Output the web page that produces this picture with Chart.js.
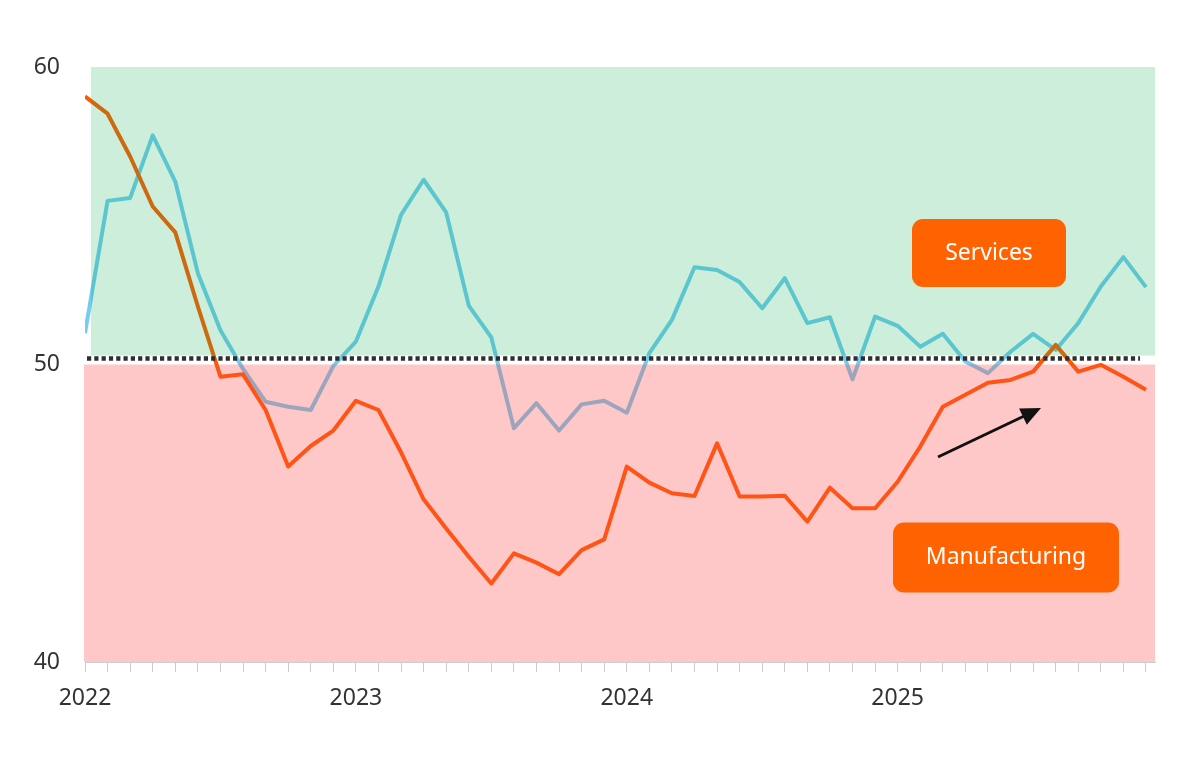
<!DOCTYPE html>
<html>
<head>
<meta charset="utf-8">
<script src="https://cdn.jsdelivr.net/npm/chart.js@4"></script>
<style>
html,body{margin:0;padding:0;background:#ffffff;}
#wrap{width:1200px;height:762px;position:relative;}
</style>
</head>
<body>
<div id="wrap"><canvas id="c" width="1200" height="762"></canvas></div>
<script>
// ---- data (monthly, Jan 2022 – Dec 2025) ----
const yearLabels = ['2022', '2023', '2024', '2025'];
const services = [
  51.05, 55.5, 55.6, 57.7, 56.15, 53.07, 51.15, 49.85, 48.75, 48.58, 48.47, 49.95,
  50.77, 52.62, 55.03, 56.21, 55.11, 51.98, 50.91, 47.86, 48.70, 47.78, 48.66, 48.78,
  48.38, 50.38, 51.50, 53.27, 53.18, 52.77, 51.89, 52.90, 51.39, 51.59, 49.50, 51.61,
  51.30, 50.60, 51.03, 50.10, 49.71, 50.43, 51.03, 50.49, 51.39, 52.62, 53.61, 52.60
];
const manufacturing = [
  59.01, 58.43, 56.99, 55.31, 54.44, 51.95, 49.59, 49.67, 48.47, 46.57, 47.26, 47.78,
  48.78, 48.47, 47.05, 45.47, 44.49, 43.54, 42.64, 43.65, 43.34, 42.95, 43.76, 44.12,
  46.57, 46.03, 45.67, 45.58, 47.35, 45.56, 45.56, 45.59, 44.72, 45.86, 45.17, 45.17,
  46.06, 47.24, 48.58, 48.98, 49.39, 49.48, 49.76, 50.66, 49.76, 49.99, 49.59, 49.15
];
const yTickValues = [40, 50, 60];
const seriesNames = ['Services', 'Manufacturing'];
const expansionThreshold = 50;
const dottedLineLevel = 50.2;

// ---- styling / annotation config ----
const FONT = '"Noto Sans", "Open Sans", sans-serif';
const labelBoxes = [
  { text: seriesNames[0], cx: 989, cy: 253, w: 154, h: 68 },
  { text: seriesNames[1], cx: 1006, cy: 557.5, w: 226, h: 70 }
];
const arrowSpec = { x1: 938, y1: 457, x2: 1041, y2: 408 };

const bandsPlugin = {
  id: 'bands',
  afterDatasetsDraw(chart) {
    const { ctx, chartArea, scales } = chart;
    const y = scales.y;
    ctx.save();
    // green (expansion) zone
    ctx.fillStyle = 'rgba(0,170,75,0.2)';
    const gTop = y.getPixelForValue(60);
    const gBot = y.getPixelForValue(expansionThreshold + 0.3);
    ctx.fillRect(chartArea.left + 6, gTop, chartArea.right - chartArea.left - 6, gBot - gTop);
    // pink (contraction) zone
    ctx.fillStyle = 'rgba(255,72,72,0.3)';
    const pTop = y.getPixelForValue(expansionThreshold);
    const pBot = y.getPixelForValue(40);
    ctx.fillRect(chartArea.left - 1, pTop, chartArea.right - chartArea.left + 1, pBot - pTop);
    // dotted line
    ctx.beginPath();
    ctx.setLineDash([4.2, 3.1]);
    ctx.lineWidth = 4.5;
    ctx.strokeStyle = '#2e2e2e';
    const dy = y.getPixelForValue(dottedLineLevel);
    ctx.moveTo(chartArea.left + 2, dy);
    ctx.lineTo(1140, dy);
    ctx.stroke();
    ctx.setLineDash([]);
    ctx.restore();
  },
  afterDraw(chart) {
    const { ctx } = chart;
    ctx.save();
    // label boxes
    labelBoxes.forEach(b => {
      ctx.fillStyle = '#FF6200';
      ctx.beginPath();
      ctx.roundRect(b.cx - b.w / 2, b.cy - b.h / 2, b.w, b.h, 11);
      ctx.fill();
      ctx.fillStyle = '#ffffff';
      ctx.font = '23px ' + FONT;
      ctx.textAlign = 'center';
      ctx.textBaseline = 'middle';
      ctx.fillText(b.text, b.cx, b.cy);
    });
    // arrow
    const a = arrowSpec;
    const ang = Math.atan2(a.y2 - a.y1, a.x2 - a.x1);
    const headLen = 20, headW = 9;
    const bx = a.x2 - headLen * Math.cos(ang), by = a.y2 - headLen * Math.sin(ang);
    ctx.strokeStyle = '#111111';
    ctx.lineWidth = 3;
    ctx.beginPath();
    ctx.moveTo(a.x1, a.y1);
    ctx.lineTo(bx + 2 * Math.cos(ang), by + 2 * Math.sin(ang));
    ctx.stroke();
    ctx.fillStyle = '#111111';
    ctx.beginPath();
    ctx.moveTo(a.x2, a.y2);
    ctx.lineTo(bx + headW * Math.sin(ang), by - headW * Math.cos(ang));
    ctx.lineTo(bx - headW * Math.sin(ang), by + headW * Math.cos(ang));
    ctx.closePath();
    ctx.fill();
    ctx.restore();
  }
};

const toPoints = arr => arr.map((v, i) => ({ x: i, y: v }));

new Chart(document.getElementById('c'), {
  type: 'line',
  data: {
    datasets: [
      {
        label: seriesNames[0],
        data: toPoints(services),
        borderColor: 'rgb(115,205,240)',
        borderWidth: 4,
        pointRadius: 0,
        tension: 0,
        borderJoinStyle: 'round',
        order: 1
      },
      {
        label: seriesNames[1],
        data: toPoints(manufacturing),
        borderColor: 'rgb(255,90,0)',
        borderWidth: 4,
        pointRadius: 0,
        tension: 0,
        borderJoinStyle: 'round',
        order: 0
      }
    ]
  },
  options: {
    responsive: false,
    animation: false,
    devicePixelRatio: 1,
    layout: { padding: { top: 67, left: 0, right: 45, bottom: 0 } },
    plugins: { legend: { display: false }, tooltip: { enabled: false } },
    scales: {
      x: {
        type: 'linear',
        min: 0,
        max: 47.4,
        afterFit(scale) { scale.height = 100; },
        grid: { drawOnChartArea: false, drawTicks: true, tickLength: 10, color: '#cccccc', lineWidth: 1 },
        border: { display: true, color: '#cccccc' },
        ticks: {
          stepSize: 1,
          autoSkip: false,
          includeBounds: false,
          maxRotation: 0,
          padding: 13,
          color: '#333333',
          font: { family: FONT, size: 23 },
          callback: (v) => (v % 12 === 0 ? yearLabels[v / 12] : '')
        }
      },
      y: {
        min: 40,
        max: 60,
        afterFit(scale) { scale.width = 85; },
        afterBuildTicks(scale) { scale.ticks = yTickValues.map(v => ({ value: v })); },
        grid: { display: false, drawTicks: false },
        border: { display: false },
        ticks: {
          padding: 25,
          color: '#333333',
          font: { family: FONT, size: 23 }
        }
      }
    }
  },
  plugins: [bandsPlugin]
});
</script>
</body>
</html>
